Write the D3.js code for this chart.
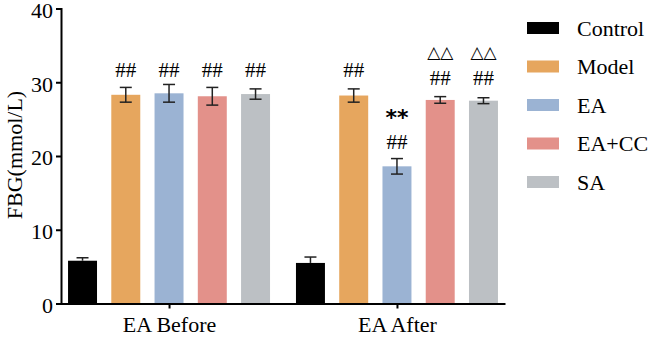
<!DOCTYPE html>
<html lang="en">
<head>
<meta charset="utf-8">
<title>FBG chart</title>
<script src="https://d3js.org/d3.v7.min.js"></script>
<style>
  body { margin: 0; background: #fff; }
  text { font-family: "Liberation Serif", "Times New Roman", serif; fill: #000; }
</style>
</head>
<body>
<svg class="chart"></svg>
<script>
    // data
    var phases = ["EA Before", "EA After"];
    var groups = ["Control", "Model", "EA", "EA+CC", "SA"];
    var colors = ["#000000", "#E6A65E", "#9BB3D3", "#E3918A", "#BCC0C4"];
    var meanBefore = [5.8, 28.3, 28.5, 28.1, 28.4];
    var errBefore = [0.4, 1.0, 1.2, 1.2, 0.7];
    var meanAfter = [5.5, 28.2, 18.6, 27.6, 27.5];
    var errAfter = [0.8, 0.9, 1.05, 0.45, 0.4];
    // significance marks, stacked bottom to top
    var marksBefore = [[], ["##"], ["##"], ["##"], ["##"]];
    var marksAfter = [[], ["##"], ["##", "**"], ["##", "\u25B3\u25B3"], ["##", "\u25B3\u25B3"]];
    var yTicks = [0, 10, 20, 30, 40];

    var width = 650,
        height = 337;

    var svg = d3.select(".chart")
        .attr("width", width)
        .attr("height", height);

    var x0 = d3.scalePoint()
        .domain(phases)
        .range([61, 505])
        .padding(0.474);

    var x1 = d3.scaleBand()
        .domain(groups)
        .range([-101, 101])
        .paddingInner(0.33);

    var y = d3.scaleLinear()
        .domain([0, 40])
        .range([303.5, 8.5]);

    var rows = [];
    phases.forEach(function(p, pi) {
        var means = pi == 0 ? meanBefore : meanAfter;
        var errs = pi == 0 ? errBefore : errAfter;
        var marks = pi == 0 ? marksBefore : marksAfter;
        groups.forEach(function(g, gi) {
            rows.push({phase: p, group: g, color: colors[gi], v: means[gi], e: errs[gi], marks: marks[gi]});
        });
    });

    var bar = svg.selectAll("g.bar")
        .data(rows)
        .enter().append("g")
        .attr("class", "bar")
        .attr("transform", function(d) {
            return "translate(" + (x0(d.phase) + x1(d.group)) + ",0)";
        });

    bar.append("rect")
        .attr("x", 0)
        .attr("y", function(d) { return y(d.v); })
        .attr("width", x1.bandwidth())
        .attr("height", function(d) { return y(0) - y(d.v); })
        .attr("fill", function(d) { return d.color; });

    // error bars (control only shows the upper half)
    var bw = x1.bandwidth();
    bar.each(function(d) {
        var g = d3.select(this);
        var cx = bw / 2;
        var lo = d.group == "Control" ? d.v : d.v - d.e;
        var hi = d.v + d.e;
        g.append("line")
            .attr("x1", cx).attr("x2", cx)
            .attr("y1", y(lo)).attr("y2", y(hi))
            .attr("stroke", "#222").attr("stroke-width", 1.5);
        g.append("line")
            .attr("x1", cx - 6).attr("x2", cx + 6)
            .attr("y1", y(hi)).attr("y2", y(hi))
            .attr("stroke", "#222").attr("stroke-width", 1.5);
        if (d.group != "Control") {
            g.append("line")
                .attr("x1", cx - 6).attr("x2", cx + 6)
                .attr("y1", y(lo)).attr("y2", y(lo))
                .attr("stroke", "#222").attr("stroke-width", 1.5);
        }
        // marks above
        var base = d.group == "EA" && d.phase == "EA After" ? 142 : (d.marks.length > 1 ? 78 : 70);
        d.marks.forEach(function(m, mi) {
            var t = g.append("text")
                .attr("x", cx)
                .attr("y", base - mi * 26)
                .attr("text-anchor", "middle")
                .attr("dominant-baseline", "central")
                .text(m);
            if (m == "**") {
                t.attr("font-size", 22).attr("font-weight", "bold")
                    .style("font-family", "DejaVu Sans").attr("y", 112).attr("dy", 5);
            } else if (m == "##") {
                t.attr("font-size", 21);
            } else {
                t.attr("font-size", 17).style("font-family", "DejaVu Sans");
            }
        });
    });

    // y axis
    var yAxis = svg.append("g")
        .attr("transform", "translate(61,0)")
        .call(d3.axisLeft(y).tickValues(yTicks).tickSize(5).tickPadding(3));
    yAxis.select(".domain").attr("stroke-width", 2);
    yAxis.selectAll(".tick line").attr("stroke-width", 2);
    yAxis.selectAll("text").attr("font-size", 22).attr("dy", "0.4em");

    // x axis
    var xAxis = svg.append("g")
        .attr("transform", "translate(0," + y(0) + ")")
        .call(d3.axisBottom(x0).tickSize(5).tickSizeOuter(0).tickPadding(8));
    xAxis.select(".domain").attr("stroke-width", 2);
    xAxis.selectAll(".tick line").attr("stroke-width", 2);
    xAxis.selectAll("text").attr("font-size", 22);

    svg.append("text")
        .attr("transform", "translate(14,155) rotate(-90)")
        .attr("text-anchor", "middle")
        .attr("dominant-baseline", "central")
        .attr("font-size", 22)
        .text("FBG(mmol/L)");

    // legend
    var legend = svg.selectAll("g.legend")
        .data(groups)
        .enter().append("g")
        .attr("class", "legend")
        .attr("transform", function(d, i) { return "translate(527," + (28 + i * 38.5) + ")"; });

    legend.append("rect")
        .attr("x", 0).attr("y", -6)
        .attr("width", 32).attr("height", 12)
        .attr("fill", function(d, i) { return colors[i]; });

    legend.append("text")
        .attr("x", 50)
        .attr("y", 0)
        .attr("dominant-baseline", "central")
        .attr("font-size", 22)
        .text(function(d) { return d; });
</script>
</body>
</html>
